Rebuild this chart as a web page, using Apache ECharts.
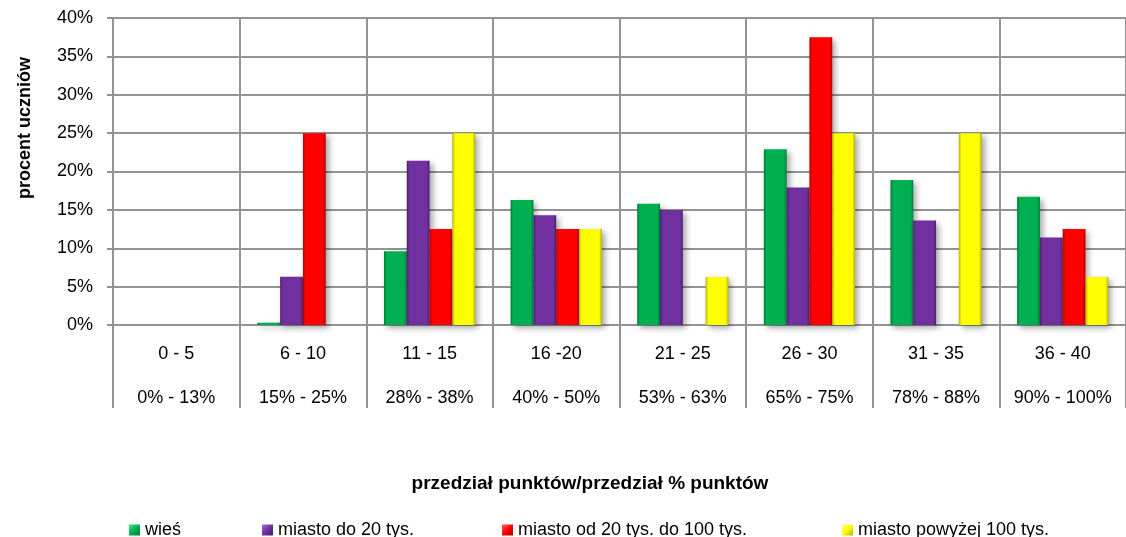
<!DOCTYPE html>
<html>
<head>
<meta charset="utf-8">
<script src="https://cdn.jsdelivr.net/npm/echarts@6/dist/echarts.min.js"></script>
<style>
html,body{margin:0;padding:0;background:#fff;}
#chart{width:1126px;height:537px;}
</style>
</head>
<body>
<div id="chart"></div>
<script>
var categories = ['0 - 5','6 - 10','11 - 15','16 -20','21 - 25','26 - 30','31 - 35','36 - 40'];
var ranges = ['0% - 13%','15% - 25%','28% - 38%','40% - 50%','53% - 63%','65% - 75%','78% - 88%','90% - 100%'];
var seriesNames = ['wieś','miasto do 20 tys.','miasto od 20 tys. do 100 tys.','miasto powyżej 100 tys.'];
var wies = [0, 0.3, 9.6, 16.3, 15.8, 22.9, 18.9, 16.7];
var miastoDo20 = [0, 6.3, 21.4, 14.3, 15.0, 17.9, 13.6, 11.4];
var miasto20do100 = [0, 25.0, 12.5, 12.5, 0, 37.5, 0, 12.5];
var miastoPow100 = [0, 0, 25.0, 12.5, 6.25, 25.0, 25.0, 6.25];
var yTicks = {min: 0, max: 40, interval: 5};

var FONT = '"Liberation Sans", Arial, sans-serif';
var LINE = '#939393';
var baseColors = ['#00B050', '#7030A0', '#FF0000', '#FFFF00'];
var edgeColors = ['#007a38', '#4a1f6b', '#b30000', '#b3b300'];
var lightColors = ['#3ee88a', '#a070d0', '#ff6060', '#ffff90'];

function grad(i) {
  return new echarts.graphic.LinearGradient(0, 0, 1, 0, [
    {offset: 0, color: edgeColors[i]},
    {offset: 0.12, color: baseColors[i]},
    {offset: 0.88, color: baseColors[i]},
    {offset: 1, color: edgeColors[i]}
  ]);
}
function legendIcon(i) {
  return new echarts.graphic.LinearGradient(0, 0, 1, 1, [
    {offset: 0, color: lightColors[i]},
    {offset: 0.5, color: baseColors[i]},
    {offset: 1, color: edgeColors[i]}
  ]);
}

var dataSets = [wies, miastoDo20, miasto20do100, miastoPow100];
var series = dataSets.map(function (d, i) {
  return {
    name: seriesNames[i],
    type: 'bar',
    data: d,
    barGap: '0%',
    barCategoryGap: '28%',
    itemStyle: {
      color: grad(i),
      shadowColor: 'rgba(0,0,0,0.35)',
      shadowBlur: 6,
      shadowOffsetX: 3,
      shadowOffsetY: 3
    }
  };
});

var legendLefts = [124, 257, 497, 837];
var legends = seriesNames.map(function (n, i) {
  return {
    data: [{name: n, itemStyle: {color: legendIcon(i)}}],
    left: legendLefts[i],
    top: 516,
    icon: 'rect',
    itemWidth: 11,
    itemHeight: 11,
    itemGap: 0,
    selectedMode: false,
    textStyle: {fontFamily: FONT, fontSize: 18, color: '#000'}
  };
});

var chart = echarts.init(document.getElementById('chart'), null, {renderer: 'canvas'});
chart.setOption({
  animation: false,
  backgroundColor: '#fff',
  grid: {left: 113, top: 18, width: 1016, bottom: 212, containLabel: false},
  legend: legends,
  xAxis: {
    type: 'category',
    data: categories,
    axisLine: {show: true, lineStyle: {color: LINE, width: 2}},
    axisTick: {show: true, length: 83, alignWithLabel: false, lineStyle: {color: LINE, width: 2}},
    splitLine: {show: true, lineStyle: {color: LINE, width: 2}},
    axisLabel: {
      interval: 0,
      margin: 7,
      fontFamily: FONT,
      fontSize: 18,
      color: '#000',
      lineHeight: 44,
      formatter: function (v, i) { return v + '\n' + ranges[i]; }
    }
  },
  yAxis: {
    type: 'value',
    min: yTicks.min,
    max: yTicks.max,
    interval: yTicks.interval,
    axisLine: {show: true, lineStyle: {color: LINE, width: 2}},
    axisTick: {show: true, length: 6, lineStyle: {color: LINE, width: 2}},
    splitLine: {show: true, lineStyle: {color: LINE, width: 2}},
    axisLabel: {
      margin: 20,
      fontFamily: FONT,
      fontSize: 18,
      color: '#000',
      formatter: '{value}%'
    }
  },
  graphic: [
    {
      type: 'text',
      x: 25, y: 128,
      rotation: Math.PI / 2,
      style: {
        text: 'procent uczniów',
        fontFamily: FONT, fontSize: 18, fontWeight: 'bold',
        fill: '#000', align: 'center', verticalAlign: 'middle'
      }
    },
    {
      type: 'text',
      x: 590, y: 484,
      style: {
        text: 'przedział punktów/przedział % punktów',
        fontFamily: FONT, fontSize: 19, fontWeight: 'bold',
        fill: '#000', align: 'center', verticalAlign: 'middle'
      }
    }
  ],
  series: series
});
</script>
</body>
</html>
